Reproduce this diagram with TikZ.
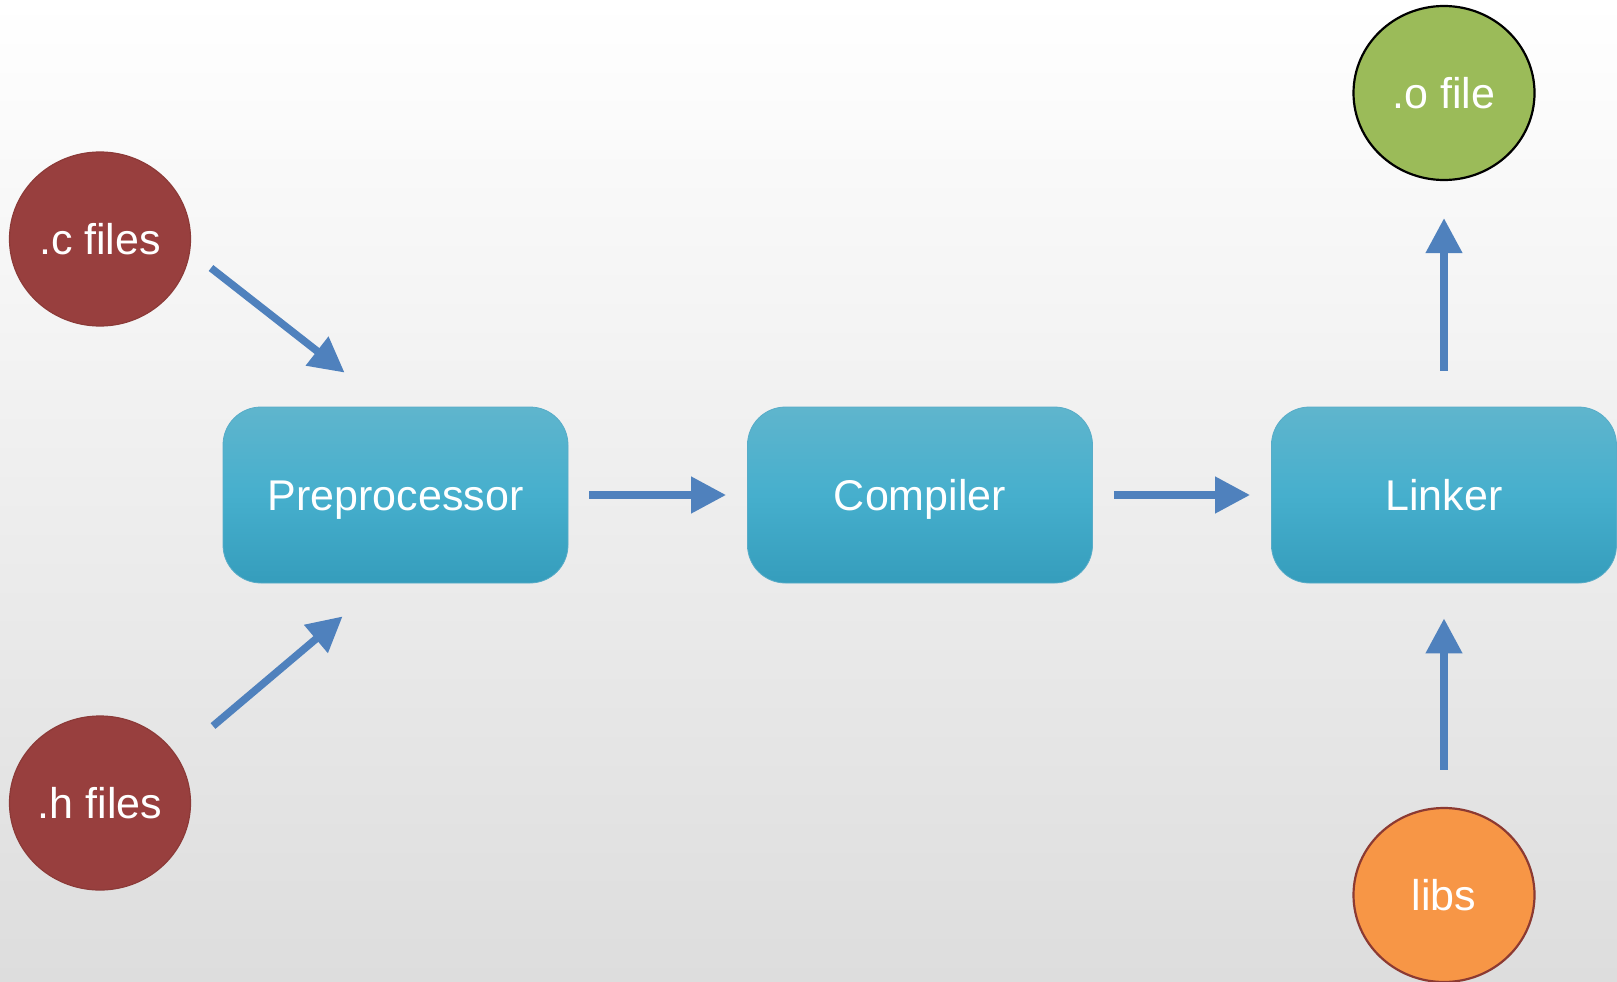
\documentclass[tikz,border=0pt]{standalone}
\usepackage{fontspec}
\setmainfont{Liberation Sans}
\usetikzlibrary{shapes.geometric,arrows.meta,calc}
\definecolor{arrowblue}{RGB}{79,129,189}
\definecolor{boxtop}{RGB}{95,181,205}
\definecolor{boxmid}{RGB}{70,175,205}
\definecolor{boxbot}{RGB}{53,157,188}
\definecolor{boxedge}{RGB}{88,172,200}
\definecolor{cred}{RGB}{152,63,62}
\definecolor{credline}{RGB}{140,58,56}
\definecolor{cgreen}{RGB}{155,187,89}
\definecolor{corange}{RGB}{247,150,70}
\definecolor{credge}{RGB}{140,58,50}
\definecolor{bgbot}{RGB}{221,221,221}
\tikzset{
  lbl/.style={text=white,font=\fontsize{43}{50}\selectfont,text height=31pt,text depth=0pt},
  stage/.style={lbl,rectangle,rounded corners=38pt,minimum width=345pt,minimum height=176pt,inner sep=0pt,
    top color=boxtop,bottom color=boxbot,middle color=boxmid,draw=boxedge,line width=0.8pt},
  blob/.style={lbl,ellipse,minimum width=181pt,minimum height=174pt,inner sep=0pt,line width=1.2pt},
  flow/.style={draw=arrowblue,line width=7.5pt,line cap=butt,-{Triangle[length=35pt,width=35pt]},arrowblue}
}
\begin{document}
\begin{tikzpicture}[x=1pt,y=-1pt]
\shade[top color=white,bottom color=bgbot] (0,0) rectangle (1617,982);
\useasboundingbox (0,0) rectangle (1617,982);
\node[stage] (pre) at (395.5,495) {Preprocessor};
\node[stage] (comp) at (920,495) {Compiler};
\node[stage] (link) at (1444,495) {Linker};
\node[blob,fill=cred,draw=credline] (c) at (100,239) {.c files};
\node[blob,fill=cred,draw=credline] (h) at (100,803) {.h files};
\node[blob,fill=cgreen,draw=black,line width=2.2pt] (o) at (1444,93) {.o file};
\node[blob,fill=corange,draw=credge,line width=2.2pt] (libs) at (1444,895) {libs};
\draw[flow] ($(c.center)+(111,29)$) -- ($(pre.north west)+(122,-34)$);
\draw[flow] ($(h.center)+(113,-77)$) -- ($(pre.south west)+(120,33)$);
\draw[flow] ($(pre.east)+(21,0)$) -- ($(comp.west)+(-21,0)$);
\draw[flow] ($(comp.east)+(21,0)$) -- ($(link.west)+(-21,0)$);
\draw[flow] ($(link.north)+(0,-36)$) -- ($(o.south)+(0,37)$);
\draw[flow] ($(libs.north)+(0,-37)$) -- ($(link.south)+(0,35)$);
\end{tikzpicture}
\end{document}
